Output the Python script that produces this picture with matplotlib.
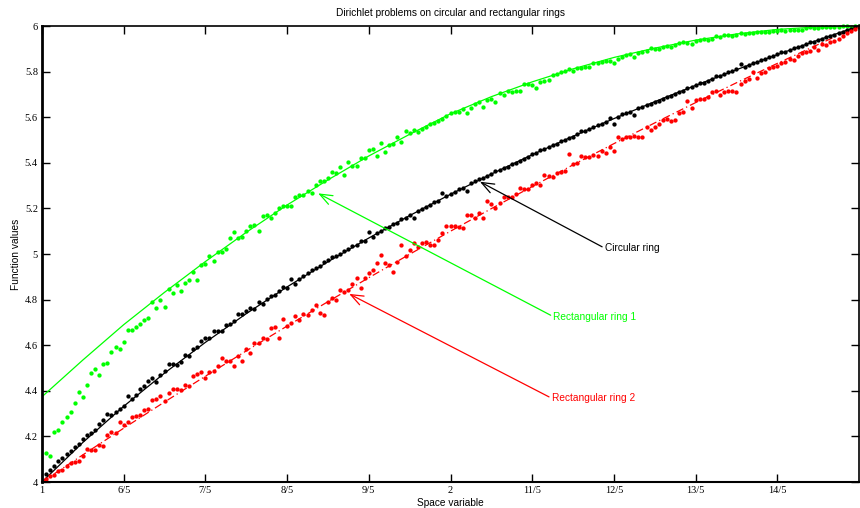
import numpy as np
import matplotlib
matplotlib.use("Agg")
import matplotlib.pyplot as plt

# ---------------- data ----------------
x_line = [1.0, 1.1, 1.2, 1.3, 1.4, 1.5, 1.6, 1.7, 1.8, 1.9, 2.0,
          2.1, 2.2, 2.3, 2.4, 2.5, 2.6, 2.7, 2.8, 2.9, 3.0]

circular_line = [4.0, 4.1735, 4.332, 4.4777, 4.6125, 4.7382, 4.8557, 4.966, 5.0701, 5.1686, 5.2619,
                 5.3507, 5.4354, 5.5163, 5.5938, 5.6681, 5.7395, 5.8083, 5.8744, 5.9383, 6.0]
rect1_line = [4.374, 4.535, 4.69, 4.832, 4.967, 5.095, 5.215, 5.325, 5.43, 5.525, 5.615,
              5.69, 5.755, 5.812, 5.862, 5.903, 5.938, 5.965, 5.985, 5.996, 6.0]
rect2_line = [4.0, 4.119, 4.236, 4.351, 4.464, 4.575, 4.684, 4.791, 4.896, 4.999, 5.1,
              5.199, 5.296, 5.391, 5.484, 5.575, 5.664, 5.751, 5.836, 5.919, 6.0]

# sample points x = 1.01, 1.02, ..., 3.00
x_dots = np.round(np.arange(101, 301) / 100.0, 2)

circular_dots = [
    4.035, 4.053, 4.072, 4.094, 4.107, 4.123, 4.136, 4.155, 4.167, 4.187,
    4.206, 4.216, 4.228, 4.253, 4.272, 4.297, 4.294, 4.306, 4.322, 4.333,
    4.379, 4.364, 4.382, 4.409, 4.423, 4.443, 4.455, 4.440, 4.469, 4.487,
    4.519, 4.519, 4.512, 4.526, 4.557, 4.554, 4.582, 4.592, 4.620, 4.633,
    4.633, 4.662, 4.662, 4.664, 4.687, 4.694, 4.708, 4.737, 4.737, 4.749,
    4.762, 4.760, 4.791, 4.781, 4.801, 4.817, 4.822, 4.838, 4.854, 4.852,
    4.889, 4.867, 4.889,
    4.905, 4.915, 4.928, 4.938, 4.947, 4.965, 4.972, 4.985, 4.990, 5.002,
    5.015, 5.020, 5.033, 5.040, 5.055, 5.058, 5.098, 5.075, 5.092, 5.100,
    5.112, 5.118, 5.132, 5.138, 5.152, 5.160, 5.172, 5.160, 5.190, 5.196,
    5.205, 5.215, 5.226, 5.232, 5.266, 5.253, 5.265, 5.272, 5.285, 5.290,
    5.278, 5.312, 5.322, 5.330, 5.335, 5.340, 5.352, 5.362, 5.370, 5.378,
    5.382, 5.395, 5.400, 5.410, 5.418, 5.425, 5.438, 5.442, 5.455, 5.460,
    5.470, 5.478, 5.482, 5.495, 5.500, 5.508, 5.515, 5.525, 5.540, 5.538,
    5.548, 5.555, 5.565, 5.570, 5.578, 5.597, 5.570, 5.600, 5.612, 5.618,
    5.625, 5.610, 5.640, 5.645, 5.652, 5.660, 5.668, 5.672, 5.682, 5.690,
    5.695, 5.702, 5.710, 5.715, 5.728, 5.732, 5.742, 5.748, 5.752, 5.760,
    5.768, 5.782, 5.782, 5.790, 5.798, 5.802, 5.812, 5.832, 5.822, 5.830,
    5.838, 5.842, 5.850, 5.855, 5.865, 5.870, 5.878, 5.888, 5.885, 5.895,
    5.902, 5.908, 5.912, 5.920, 5.928, 5.932, 5.940, 5.945, 5.952, 5.958,
    5.962, 5.970, 5.975, 5.982, 5.988, 5.994, 6.000]

rect1_dots = [
    4.129, 4.115, 4.221, 4.228, 4.262, 4.287, 4.309,
    4.345, 4.396, 4.371, 4.425, 4.477, 4.496, 4.471, 4.516, 4.523, 4.570,
    4.591, 4.582, 4.615, 4.668, 4.668, 4.678, 4.693, 4.712, 4.721, 4.788,
    4.763, 4.800, 4.766, 4.845, 4.829, 4.863, 4.836, 4.873, 4.887, 4.922,
    4.887, 4.952, 4.955, 4.993, 4.968, 5.009, 5.009, 5.021, 5.072, 5.096,
    5.069, 5.076, 5.102, 5.123, 5.126, 5.102, 5.165, 5.171, 5.159, 5.181,
    5.200, 5.212, 5.209, 5.211, 5.251, 5.259,
    5.259, 5.278, 5.266, 5.303, 5.322, 5.322, 5.332, 5.361, 5.357, 5.383,
    5.345, 5.405, 5.387, 5.387, 5.420, 5.423, 5.456, 5.459, 5.431, 5.488,
    5.449, 5.478, 5.481, 5.515, 5.491, 5.541, 5.529, 5.544, 5.534, 5.547,
    5.558, 5.570, 5.576, 5.583, 5.594, 5.605, 5.620, 5.621, 5.624, 5.635,
    5.617, 5.639, 5.658, 5.665, 5.646, 5.675, 5.681, 5.668, 5.705, 5.697,
    5.715, 5.712, 5.715, 5.713, 5.746, 5.744, 5.740, 5.728, 5.754, 5.760,
    5.762, 5.785, 5.788, 5.798, 5.801, 5.810, 5.804, 5.816,
    5.817, 5.819, 5.822, 5.836, 5.836, 5.841, 5.845, 5.848, 5.836, 5.854,
    5.863, 5.874, 5.876, 5.866, 5.882, 5.887, 5.889, 5.905, 5.898, 5.901,
    5.907, 5.912, 5.910, 5.915, 5.927, 5.931, 5.927, 5.920, 5.934, 5.939,
    5.942, 5.939, 5.943, 5.957, 5.953, 5.959, 5.962, 5.957, 5.962, 5.968,
    5.965, 5.969, 5.969, 5.972, 5.972, 5.974, 5.975, 5.977, 5.978, 5.982,
    5.978, 5.981, 5.981, 5.982, 5.984, 5.991, 5.994, 5.991, 5.991, 5.994,
    5.994, 5.996, 5.994, 5.996, 5.998, 5.998, 5.996, 5.998, 5.999]

rect2_dots = [
    4.012, 4.026, 4.031, 4.050, 4.053, 4.070, 4.085, 4.089, 4.094, 4.114,
    4.143, 4.140, 4.140, 4.162, 4.158, 4.206, 4.218, 4.213, 4.265, 4.250,
    4.262, 4.287, 4.291, 4.294, 4.316, 4.319, 4.360, 4.364, 4.379, 4.355,
    4.389, 4.406, 4.408, 4.404, 4.425,
    4.421, 4.465, 4.474, 4.484, 4.455, 4.484, 4.488, 4.509, 4.545, 4.531,
    4.531, 4.509, 4.554, 4.531, 4.583, 4.564, 4.608, 4.611, 4.633, 4.626,
    4.674, 4.681, 4.633, 4.713, 4.684, 4.699, 4.728, 4.711,
    4.737, 4.733, 4.754, 4.776, 4.743, 4.733, 4.790, 4.806, 4.800, 4.842,
    4.835, 4.842, 4.870, 4.893, 4.849, 4.893, 4.915, 4.930, 4.959, 4.996,
    4.959, 4.952, 4.922, 4.966, 5.039, 4.991, 5.018, 5.047, 5.032, 5.047,
    5.054, 5.039, 5.039, 5.061, 5.091, 5.123, 5.123, 5.123, 5.117, 5.113,
    5.171, 5.171, 5.157, 5.181, 5.157, 5.234, 5.219, 5.203, 5.222, 5.251,
    5.251, 5.251, 5.263,
    5.291, 5.284, 5.287, 5.304, 5.310, 5.301, 5.345, 5.342, 5.339, 5.357,
    5.361, 5.365, 5.437, 5.395, 5.398,
    5.430, 5.424, 5.424, 5.434, 5.430, 5.453, 5.444, 5.471, 5.452, 5.515,
    5.503, 5.512, 5.515, 5.518, 5.512, 5.515, 5.556, 5.544, 5.558, 5.570,
    5.588, 5.591, 5.585, 5.588, 5.617, 5.624, 5.671, 5.639, 5.675, 5.680,
    5.678, 5.690, 5.712, 5.716, 5.697, 5.712, 5.716, 5.716, 5.712,
    5.745, 5.760, 5.768, 5.800, 5.771, 5.793, 5.800, 5.814, 5.819, 5.825,
    5.836, 5.844, 5.854, 5.851, 5.868, 5.880, 5.885, 5.892, 5.909, 5.895,
    5.921, 5.917, 5.930, 5.936, 5.944, 5.956, 5.968, 5.980, 5.985, 5.995]

x_ticks = [1.0, 1.2, 1.4, 1.6, 1.8, 2.0, 2.2, 2.4, 2.6, 2.8]
x_tick_labels = ['1', '6/5', '7/5', '8/5', '9/5', '2', '11/5', '12/5', '13/5', '14/5']
y_ticks = [4.0, 4.2, 4.4, 4.6, 4.8, 5.0, 5.2, 5.4, 5.6, 5.8, 6.0]
y_tick_labels = ['4', '4.2', '4.4', '4.6', '4.8', '5', '5.2', '5.4', '5.6', '5.8', '6']

# ---------------- plot ----------------
GREEN = '#00ff00'
RED = '#ff0000'
BLACK = '#000000'
SANS = 'Liberation Sans'
SERIF = 'Liberation Serif'
TXT = 7.3

fig = plt.figure(figsize=(8.6, 5.08), dpi=100)
ax = fig.add_axes([42 / 860, 26 / 508, 817 / 860, 456 / 508])

ax.plot(x_line, rect1_line, color=GREEN, lw=0.9)
ax.plot(x_line, circular_line, color=BLACK, lw=0.9)
ax.plot(x_line, rect2_line, color=RED, lw=0.9, linestyle=(0, (6, 2.5, 1, 2.5)))

ms = 3.1
ax.plot(x_dots, rect1_dots, 'o', color=GREEN, ms=ms, mew=0, clip_on=False)
ax.plot(x_dots, circular_dots, 'o', color=BLACK, ms=ms, mew=0, clip_on=False)
ax.plot(x_dots, rect2_dots, 'o', color=RED, ms=ms, mew=0, clip_on=False)

ax.set_xlim(1, 3)
ax.set_ylim(4, 6)
ax.set_xticks(x_ticks)
ax.set_xticklabels(x_tick_labels, fontfamily=SERIF, fontsize=7.5)
ax.set_yticks(y_ticks)
ax.set_yticklabels(y_tick_labels, fontfamily=SERIF, fontsize=7.5)
ax.tick_params(direction='in', length=6, width=1.0, top=True, right=True, pad=3)

for side, lw in (('left', 2.0), ('bottom', 1.5), ('top', 1.2), ('right', 1.2)):
    ax.spines[side].set_linewidth(lw)

ax.set_title('Dirichlet problems on circular and rectangular rings',
             fontfamily=SANS, fontsize=TXT, pad=7)
ax.set_xlabel('Space variable', fontfamily=SANS, fontsize=TXT, labelpad=2)
ax.set_ylabel('Function values', fontfamily=SANS, fontsize=TXT, labelpad=3)

arrow_kw = dict(arrowstyle='->,head_length=0.9,head_width=0.35', lw=0.9,
                shrinkA=0, shrinkB=0, relpos=(0, 0.5), mutation_scale=10)

ax.annotate('Circular ring', xy=(2.072, 5.317), xytext=(2.378, 5.025),
            color=BLACK, fontfamily=SANS, fontsize=TXT, ha='left', va='center',
            arrowprops=dict(color=BLACK, **arrow_kw))
ax.annotate('Rectangular ring 1', xy=(1.676, 5.266), xytext=(2.252, 4.725),
            color=GREEN, fontfamily=SANS, fontsize=TXT, ha='left', va='center',
            arrowprops=dict(color=GREEN, **arrow_kw))
ax.annotate('Rectangular ring 2', xy=(1.752, 4.825), xytext=(2.248, 4.367),
            color=RED, fontfamily=SANS, fontsize=TXT, ha='left', va='center',
            arrowprops=dict(color=RED, **arrow_kw))

fig.savefig('out.png', dpi=100)
